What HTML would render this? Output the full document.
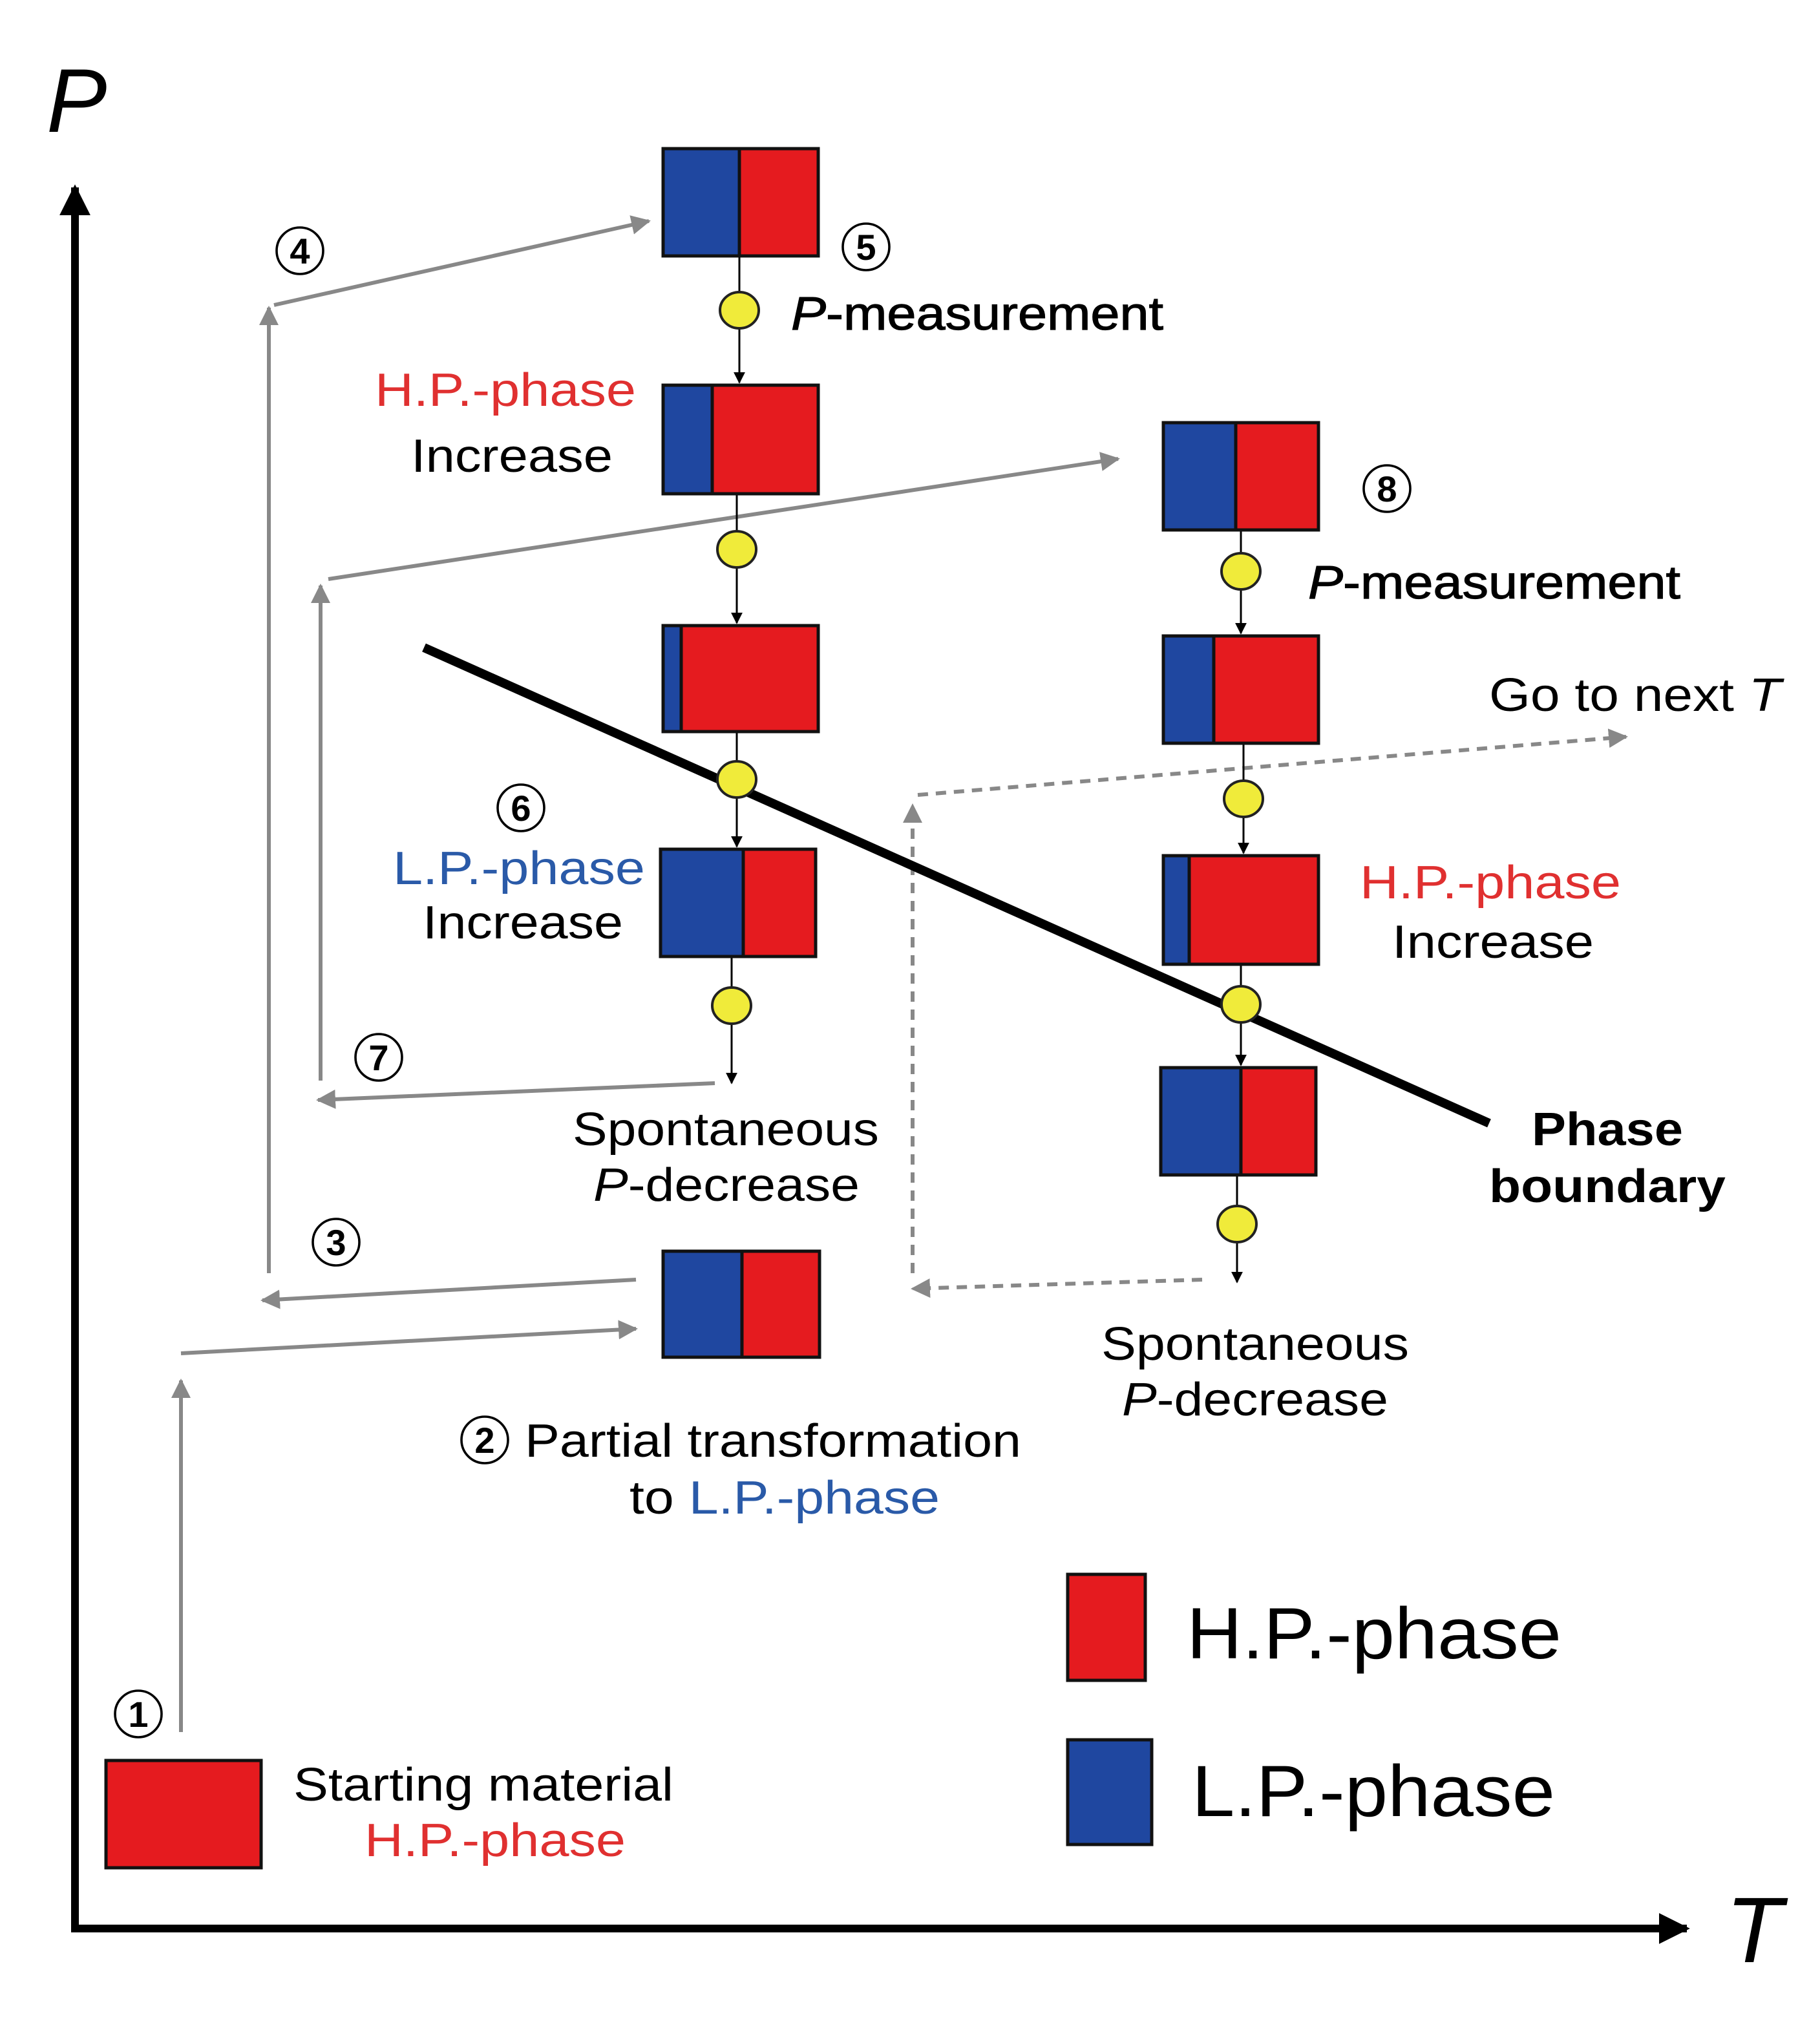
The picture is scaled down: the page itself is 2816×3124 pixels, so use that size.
<!DOCTYPE html>
<html><head><meta charset="utf-8"><style>
html,body{margin:0;padding:0;background:#fff}
svg{display:block}
text{font-family:"Liberation Sans",sans-serif}
</style></head><body>
<svg width="2816" height="3124" viewBox="0 0 1408 1562" xmlns="http://www.w3.org/2000/svg">
<defs>
<marker id="ag" viewBox="0 0 10 10" refX="9" refY="5" markerWidth="5" markerHeight="5" orient="auto" markerUnits="strokeWidth"><path d="M0,0L10,5L0,10z" fill="#888"/></marker>
<marker id="ab" viewBox="0 0 10 10" refX="9" refY="5" markerWidth="6" markerHeight="6" orient="auto" markerUnits="strokeWidth"><path d="M0,0L10,5L0,10z" fill="#000"/></marker>
<marker id="ax" viewBox="0 0 10 10" refX="9" refY="5" markerWidth="4" markerHeight="4" orient="auto" markerUnits="strokeWidth"><path d="M0,0L10,5L0,10z" fill="#000"/></marker>
</defs>
<rect width="1408" height="1562" fill="#fff"/>
<!-- axes -->
<line x1="58" y1="1492" x2="58" y2="145" stroke="#000" stroke-width="6" marker-end="url(#ax)"/>
<line x1="55" y1="1492" x2="1305" y2="1492" stroke="#000" stroke-width="6" marker-end="url(#ax)"/>
<text x="36" y="102" font-size="70" font-style="italic">P</text>
<text x="1335" y="1518" font-size="72" font-style="italic">T</text>

<!-- gray arrows -->
<g stroke="#888" stroke-width="3" fill="none">
<line x1="140" y1="1340" x2="140" y2="1068" marker-end="url(#ag)"/>
<line x1="140" y1="1047" x2="492" y2="1028" marker-end="url(#ag)"/>
<line x1="492" y1="990" x2="203" y2="1006" marker-end="url(#ag)"/>
<line x1="208" y1="985" x2="208" y2="238" marker-end="url(#ag)"/>
<line x1="212" y1="236" x2="502" y2="171" marker-end="url(#ag)"/>
<line x1="553" y1="838" x2="246" y2="851" marker-end="url(#ag)"/>
<line x1="248" y1="836" x2="248" y2="453" marker-end="url(#ag)"/>
<line x1="254" y1="448" x2="865" y2="355" marker-end="url(#ag)"/>
<g stroke-dasharray="8,6">
<line x1="930" y1="990" x2="706" y2="997" marker-end="url(#ag)"/>
<line x1="706" y1="985" x2="706" y2="623" marker-end="url(#ag)"/>
<line x1="710" y1="615" x2="1258" y2="570" marker-end="url(#ag)"/>
</g>
</g>

<!-- black connectors -->
<g stroke="#000" stroke-width="1.5">
<line x1="572" y1="198" x2="572" y2="296" marker-end="url(#ab)"/>
<line x1="570" y1="382" x2="570" y2="482" marker-end="url(#ab)"/>
<line x1="570" y1="566" x2="570" y2="655" marker-end="url(#ab)"/>
<line x1="566" y1="740" x2="566" y2="838" marker-end="url(#ab)"/>
<line x1="960" y1="410" x2="960" y2="490" marker-end="url(#ab)"/>
<line x1="962" y1="575" x2="962" y2="660" marker-end="url(#ab)"/>
<line x1="960" y1="746" x2="960" y2="824" marker-end="url(#ab)"/>
<line x1="957" y1="909" x2="957" y2="992" marker-end="url(#ab)"/>
</g>

<!-- boxes -->
<g stroke="#111" stroke-width="2.5">
<rect x="513" y="115" width="120" height="83" fill="#e51b1f"/><rect x="513" y="115" width="59" height="83" fill="#1f47a0"/>
<rect x="513" y="298" width="120" height="84" fill="#e51b1f"/><rect x="513" y="298" width="38" height="84" fill="#1f47a0"/>
<rect x="513" y="484" width="120" height="82" fill="#e51b1f"/><rect x="513" y="484" width="14" height="82" fill="#1f47a0"/>
<rect x="511" y="657" width="120" height="83" fill="#e51b1f"/><rect x="511" y="657" width="64" height="83" fill="#1f47a0"/>
<rect x="513" y="968" width="121" height="82" fill="#e51b1f"/><rect x="513" y="968" width="61" height="82" fill="#1f47a0"/>
<rect x="900" y="327" width="120" height="83" fill="#e51b1f"/><rect x="900" y="327" width="56" height="83" fill="#1f47a0"/>
<rect x="900" y="492" width="120" height="83" fill="#e51b1f"/><rect x="900" y="492" width="39" height="83" fill="#1f47a0"/>
<rect x="900" y="662" width="120" height="84" fill="#e51b1f"/><rect x="900" y="662" width="20" height="84" fill="#1f47a0"/>
<rect x="898" y="826" width="120" height="83" fill="#e51b1f"/><rect x="898" y="826" width="62" height="83" fill="#1f47a0"/>
<rect x="82" y="1362" width="120" height="83" fill="#e51b1f"/>
<rect x="826" y="1218" width="60" height="82" fill="#e51b1f"/>
<rect x="826" y="1346" width="65" height="81" fill="#1f47a0"/>
</g>

<!-- phase boundary -->
<line x1="328" y1="501" x2="1152" y2="869" stroke="#000" stroke-width="7"/>

<!-- yellow circles -->
<g fill="#f0eb3a" stroke="#222" stroke-width="2">
<ellipse cx="572" cy="240" rx="15" ry="14"/>
<ellipse cx="570" cy="425" rx="15" ry="14"/>
<ellipse cx="570" cy="603" rx="15" ry="14"/>
<ellipse cx="566" cy="778" rx="15" ry="14"/>
<ellipse cx="960" cy="442" rx="15" ry="14"/>
<ellipse cx="962" cy="618" rx="15" ry="14"/>
<ellipse cx="960" cy="777" rx="15" ry="14"/>
<ellipse cx="957" cy="947" rx="15" ry="14"/>
</g>

<!-- circled numbers -->
<g font-size="28" text-anchor="middle" font-weight="bold">
<g fill="none" stroke="#000" stroke-width="1.8">
<circle cx="232" cy="194" r="18"/><circle cx="670" cy="191" r="18"/><circle cx="1073" cy="378" r="18"/>
<circle cx="403" cy="625" r="18"/><circle cx="293" cy="818" r="18"/><circle cx="260" cy="961" r="18"/>
<circle cx="375" cy="1114" r="18"/><circle cx="107" cy="1326" r="18"/>
</g>
<text x="232" y="204">4</text><text x="670" y="201">5</text><text x="1073" y="388">8</text>
<text x="403" y="635">6</text><text x="293" y="828">7</text><text x="260" y="971">3</text>
<text x="375" y="1124">2</text><text x="107" y="1336">1</text>
</g>

<!-- labels -->
<g font-size="36" lengthAdjust="spacingAndGlyphs">
<text x="612" y="255" textLength="288" lengthAdjust="spacingAndGlyphs" stroke="#000" stroke-width="0.6"><tspan font-style="italic">P</tspan>-measurement</text>
<text x="1012" y="463" textLength="288" lengthAdjust="spacingAndGlyphs" stroke="#000" stroke-width="0.6"><tspan font-style="italic">P</tspan>-measurement</text>
<text x="290" y="314" textLength="202" lengthAdjust="spacingAndGlyphs" fill="#e03030">H.P.-phase</text>
<text x="318" y="365" textLength="156" lengthAdjust="spacingAndGlyphs">Increase</text>
<text x="304" y="684" textLength="195" lengthAdjust="spacingAndGlyphs" fill="#2a5aa8">L.P.-phase</text>
<text x="327" y="726" textLength="155" lengthAdjust="spacingAndGlyphs">Increase</text>
<text x="1052" y="695" textLength="202" lengthAdjust="spacingAndGlyphs" fill="#e03030">H.P.-phase</text>
<text x="1077" y="741" textLength="156" lengthAdjust="spacingAndGlyphs">Increase</text>
<text x="1152" y="550" textLength="226" lengthAdjust="spacingAndGlyphs">Go to next <tspan font-style="italic">T</tspan></text>
<text x="443" y="886" textLength="237" lengthAdjust="spacingAndGlyphs">Spontaneous</text>
<text x="459" y="929" textLength="206" lengthAdjust="spacingAndGlyphs"><tspan font-style="italic">P</tspan>-decrease</text>
<text x="852" y="1052" textLength="238" lengthAdjust="spacingAndGlyphs">Spontaneous</text>
<text x="868" y="1095" textLength="206" lengthAdjust="spacingAndGlyphs"><tspan font-style="italic">P</tspan>-decrease</text>
<text x="1185" y="886" textLength="117" lengthAdjust="spacingAndGlyphs" font-weight="bold">Phase</text>
<text x="1152" y="930" textLength="183" lengthAdjust="spacingAndGlyphs" font-weight="bold">boundary</text>
<text x="406" y="1127" textLength="384" lengthAdjust="spacingAndGlyphs">Partial transformation</text>
<text x="487" y="1171" textLength="240" lengthAdjust="spacingAndGlyphs">to <tspan fill="#2a5aa8">L.P.-phase</tspan></text>
<text x="227" y="1393" textLength="294" lengthAdjust="spacingAndGlyphs">Starting material</text>
<text x="282" y="1436" textLength="202" lengthAdjust="spacingAndGlyphs" fill="#e03030">H.P.-phase</text>
</g>
<text x="918" y="1283" font-size="56" textLength="290" lengthAdjust="spacingAndGlyphs">H.P.-phase</text>
<text x="922" y="1405" font-size="56" textLength="281" lengthAdjust="spacingAndGlyphs">L.P.-phase</text>
</svg>
</body></html>
